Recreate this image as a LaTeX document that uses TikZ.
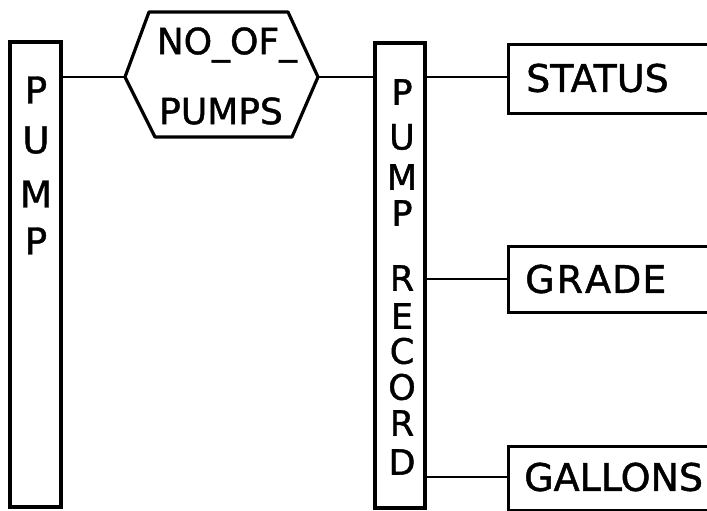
\documentclass[tikz,border=0pt]{standalone}
\usepackage{fontspec}
\setmainfont{DejaVu Sans}[FakeBold=1.2]
\begin{document}
\begin{tikzpicture}[x=1pt,y=-1pt,
  box/.style={draw, line width=3.2pt, inner sep=0pt},
  conn/.style={line width=2.6pt},
  lbl/.style={inner sep=0pt, font=\fontsize{38}{38}\selectfont},
  vlet/.style={inner sep=0pt, font=\fontsize{37}{37}\selectfont},
  rlet/.style={inner sep=0pt, font=\fontsize{35}{35}\selectfont},
  hexlbl/.style={inner sep=0pt, font=\fontsize{36}{36}\selectfont}]
\clip (0,0) rectangle (707,511);
\fill[white] (0,0) rectangle (707,511);
% PUMP box
\node[box, minimum width=51pt, minimum height=465pt] (pump) at (35.5,274.5) {};
\foreach \c/\yy [count=\i] in {P/90, U/140, M/194, P/241}
  \node[vlet] (pl\i) at (36,\yy) {\c};
% hexagon
\coordinate (hexL) at (125,77);
\coordinate (hexR) at (318,77);
\node[hexlbl] (hex1) at (227,45) {NO\_OF\_};
\node[hexlbl] (hex2) at (221,111) {PUMPS};
\draw[line width=3.2pt, line join=round] (hexL) -- (149,12) -- (288,12) -- (hexR) -- (292,137) -- (155,137) -- cycle;
% PUMP RECORD box
\node[box, minimum width=50pt, minimum height=465pt] (rec) at (400,275.5) {};
\foreach \c/\yy [count=\i] in {P/92, U/137, M/177, P/213, R/278, E/316, C/351, O/387, R/423, D/462}
  \node[rlet] (rl\i) at (402,\yy) {\c};
% field boxes
\node[box, anchor=north west, minimum width=240pt, minimum height=69pt] (status) at (507,43) {};
\node[lbl, anchor=west] (statust) at (526,78) {STATUS};
\node[box, anchor=north west, minimum width=240pt, minimum height=66pt] (grade) at (507,245) {};
\node[lbl, anchor=west] (gradet) at (525,279) {G\kern2pt R\kern2pt A\kern1pt D\kern1pt E};
\node[box, anchor=north west, minimum width=240pt, minimum height=64pt] (gallons) at (507,445) {};
\node[lbl, anchor=west] (gallonst) at (524,477) {GALLONS};
% connectors
\draw[conn] (pump.east |- hexL) -- (hexL);
\draw[conn] (hexR) -- (rec.west |- hexR);
\draw[conn] (rec.east |- hexR) -- (status.west |- hexR);
\draw[conn] (rec.east |- gradet.west) -- (grade.west |- gradet.west);
\draw[conn] (rec.east |- gallonst.west) -- (gallons.west |- gallonst.west);
\end{tikzpicture}
\end{document}
